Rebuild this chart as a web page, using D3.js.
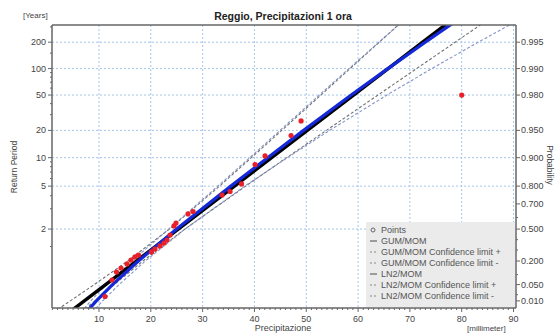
<!DOCTYPE html>
<html><head><meta charset="utf-8">
<script src="https://cdn.jsdelivr.net/npm/d3@7"></script>
<style>body{margin:0;background:#fff}svg{display:block;font-family:"Liberation Sans",Arial,sans-serif}</style>
</head><body>
<svg id="c" width="557" height="334"></svg>
<script>
// ---- data ----
const title = "Reggio, Precipitazioni 1 ora";
const leftTicks = [200, 100, 50, 20, 10, 5, 2];
const leftMinor = [300, 150, 90, 80, 70, 60, 40, 30, 9, 8, 7, 6, 4, 3, 1.5];
const rightTicks = [0.995, 0.990, 0.980, 0.950, 0.900, 0.800, 0.700, 0.500, 0.200, 0.050, 0.010];
const rightMinor = [0.6, 0.4, 0.3, 0.1, 0.02];
const xTicks = [10, 20, 30, 40, 50, 60, 70, 80, 90];
// return periods at which the fitted curves are given
const curveT = [1.002, 1.0101, 1.0526, 1.25, 2, 5, 10, 20, 50, 100, 200, 500];
const gumMom = [4.29, 7.17, 11.28, 17.22, 25.29, 36.14, 43.31, 50.20, 59.12, 65.80, 72.46, 81.24];
const gumUpper = [1.20, 4.47, 9.08, 15.54, 23.57, 33.25, 39.41, 45.27, 52.82, 58.46, 64.08, 71.48];
const gumLower = [6.60, 9.19, 12.93, 18.48, 26.58, 38.30, 46.23, 53.89, 63.84, 71.29, 78.73, 88.55];
const ln2Mom = [7.54, 9.49, 12.60, 17.60, 24.98, 35.45, 42.56, 49.50, 58.67, 65.75, 72.96, 82.70];
const ln2Upper = [6.54, 8.41, 11.44, 16.36, 23.45, 32.94, 39.09, 44.94, 52.50, 58.24, 64.01, 71.69];
const ln2Lower = [8.70, 10.71, 13.88, 18.94, 26.60, 38.15, 46.34, 54.52, 65.56, 74.23, 83.17, 95.39];
// observed points: precipitation [mm] and return period [years]
const pointX = [11.16, 12.51, 13.38, 14.25, 15.41, 16.18, 16.95, 17.63, 20.14, 20.81, 21.78, 22.55, 23.13, 23.71, 24.48, 24.86, 27.18, 28.15, 33.75, 35.29, 37.51, 40.12, 42.05, 47.07, 49.0, 80.0];
const pointT = [1.0168, 1.0756, 1.132, 1.169, 1.213, 1.264, 1.308, 1.339, 1.392, 1.449, 1.513, 1.582, 1.658, 1.801, 2.12, 2.24, 2.69, 2.83, 4.07, 4.41, 5.26, 8.44, 10.44, 17.55, 25.5, 50];
const legendLabels = ["Points", "GUM/MOM", "GUM/MOM Confidence limit +", "GUM/MOM Confidence limit -", "LN2/MOM", "LN2/MOM Confidence limit +", "LN2/MOM Confidence limit -"];

// ---- layout ----
const L = 52, R = 516, T = 25, B = 308;
const svg = d3.select("#c");
const gumbelP = p => -Math.log(-Math.log(p));
const gumbelT = t => gumbelP(1 - 1 / t);
const x = d3.scaleLinear().domain([0.93, 90.48]).range([L, R]);
const y = d3.scaleLinear().domain([-1.715, 5.75]).range([B, T]);
const yT = t => y(gumbelT(t));
const yP = p => y(gumbelP(p));

// grid
const grid = svg.append("g");
xTicks.forEach(v => grid.append("line").attr("x1", x(v)).attr("x2", x(v)).attr("y1", T).attr("y2", B)
  .attr("stroke", "#a4c6e8").attr("stroke-width", 1).attr("stroke-dasharray", "2,2"));
leftTicks.forEach(v => grid.append("line").attr("x1", L).attr("x2", R).attr("y1", yT(v)).attr("y2", yT(v))
  .attr("stroke", "#a4c6e8").attr("stroke-width", 1).attr("stroke-dasharray", "2,2"));

// clip
svg.append("clipPath").attr("id", "clip").append("rect").attr("x", L).attr("y", T).attr("width", R - L).attr("height", B - T);
const plot = svg.append("g").attr("clip-path", "url(#clip)");
const line = d3.line().x(d => x(d[0])).y(d => yT(d[1]));
const mk = arr => arr.map((v, i) => [v, curveT[i]]);

const drawLine = (arr, color, w, dash) => plot.append("path").datum(mk(arr)).attr("d", line)
  .attr("fill", "none").attr("stroke", color).attr("stroke-width", w).attr("stroke-dasharray", dash || null);

drawLine(gumUpper, "#707070", 1.1, "3,2");
drawLine(gumLower, "#707070", 1.1, "3,2");
drawLine(ln2Upper, "#8494c8", 1.1, "3,2");
drawLine(ln2Lower, "#8494c8", 1.1, "3,2");
drawLine(gumMom, "#000", 3.4);
drawLine(ln2Mom, "#1428d8", 3.2);

plot.selectAll("circle.pt").data(pointX.map((v, i) => [v, pointT[i]])).enter().append("circle")
  .attr("cx", d => x(d[0])).attr("cy", d => yT(d[1])).attr("r", 2.6).attr("fill", "#e8202a");

// frame / axes
const axisColor = "#666";
[[L, T, R, T], [L, T, L, B], [R, T, R, B], [L, B, R, B]].forEach(s =>
  svg.append("line").attr("x1", s[0]).attr("y1", s[1]).attr("x2", s[2]).attr("y2", s[3]).attr("stroke", axisColor).attr("stroke-width", 1.5));

const txt = "#444";
// left axis
leftTicks.forEach(v => {
  svg.append("line").attr("x1", L - 4).attr("x2", L).attr("y1", yT(v)).attr("y2", yT(v)).attr("stroke", axisColor);
  svg.append("text").attr("x", L - 6).attr("y", yT(v) + 3).attr("text-anchor", "end").attr("font-size", 9).attr("fill", txt).text(v);
});
leftMinor.forEach(v => svg.append("line").attr("x1", L - 2).attr("x2", L).attr("y1", yT(v)).attr("y2", yT(v)).attr("stroke", axisColor));
// right axis
rightTicks.forEach(p => {
  svg.append("line").attr("x1", R).attr("x2", R + 4).attr("y1", yP(p)).attr("y2", yP(p)).attr("stroke", axisColor);
  svg.append("text").attr("x", R + 5).attr("y", yP(p) + 3).attr("font-size", 9).attr("fill", txt).text(d3.format(".3f")(p));
});
rightMinor.forEach(p => svg.append("line").attr("x1", R).attr("x2", R + 2).attr("y1", yP(p)).attr("y2", yP(p)).attr("stroke", axisColor));
// bottom axis
d3.range(1, 91).forEach(v => svg.append("line").attr("x1", x(v)).attr("x2", x(v)).attr("y1", B).attr("y2", B + (v % 10 === 0 ? 4 : 2)).attr("stroke", axisColor));
xTicks.forEach(v => svg.append("text").attr("x", x(v)).attr("y", B + 14).attr("text-anchor", "middle").attr("font-size", 9).attr("fill", txt).text(v));

// titles
svg.append("text").attr("x", 283).attr("y", 20).attr("text-anchor", "middle").attr("font-size", 10.5).attr("font-weight", "bold").attr("fill", "#222").text(title);
svg.append("text").attr("x", 23).attr("y", 18).attr("font-size", 8).attr("fill", txt).text("[Years]");
svg.append("text").attr("transform", "translate(17,167) rotate(-90)").attr("text-anchor", "middle").attr("font-size", 8.5).attr("fill", txt).text("Return Period");
svg.append("text").attr("transform", "translate(547,165) rotate(90)").attr("text-anchor", "middle").attr("font-size", 8.5).attr("fill", txt).text("Probability");
svg.append("text").attr("x", 283).attr("y", 331).attr("text-anchor", "middle").attr("font-size", 9).attr("fill", txt).text("Precipitazione");
svg.append("text").attr("x", 467).attr("y", 331).attr("font-size", 8).attr("fill", txt).text("[millimeter]");

// legend
const lg = svg.append("g");
lg.append("rect").attr("x", 366).attr("y", 222).attr("width", R - 366 - 1).attr("height", B - 222 - 1).attr("fill", "#ebebeb");
const styles = [
  {type: "pt"}, {type: "l", c: "#666", d: null}, {type: "l", c: "#888", d: "2,2"}, {type: "l", c: "#888", d: "2,2"},
  {type: "l", c: "#666", d: null}, {type: "l", c: "#888", d: "2,2"}, {type: "l", c: "#888", d: "2,2"}
];
legendLabels.forEach((lab, i) => {
  const yy = 230 + i * 11;
  const s = styles[i];
  if (s.type === "pt") lg.append("circle").attr("cx", 373).attr("cy", yy).attr("r", 2).attr("fill", "none").attr("stroke", "#666");
  else lg.append("line").attr("x1", 370).attr("x2", 377).attr("y1", yy).attr("y2", yy).attr("stroke", s.c).attr("stroke-width", 1.2).attr("stroke-dasharray", s.d);
  lg.append("text").attr("x", 381).attr("y", yy + 3).attr("font-size", 9).attr("fill", "#555").text(lab);
});
</script>
</body></html>
